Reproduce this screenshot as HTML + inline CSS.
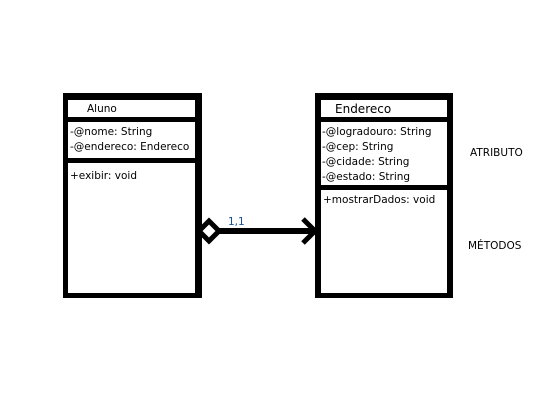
<!DOCTYPE html>
<html><head><style>body{margin:0;background:#fff}svg{display:block}text{font-family:"DejaVu Sans","Liberation Sans",sans-serif;font-size:10.5px;fill:#000}</style></head>
<body>
<svg width="559" height="402" viewBox="0 0 559 402">
<rect x="0" y="0" width="559" height="402" fill="#fff"/>
<!-- Aluno -->
<rect x="63" y="93" width="139" height="205" fill="#000"/>
<rect x="68" y="100" width="127" height="17" fill="#fff"/>
<rect x="68" y="122" width="127" height="36" fill="#fff"/>
<rect x="68" y="163" width="127" height="130" fill="#fff"/>
<text x="87" y="112">Aluno</text>
<text x="70" y="135">-@nome: String</text>
<text x="70" y="150">-@endereco: Endereco</text>
<text x="70" y="179">+exibir: void</text>
<!-- Endereco -->
<rect x="315" y="93" width="138" height="205" fill="#000"/>
<rect x="321" y="100" width="126" height="17" fill="#fff"/>
<rect x="321" y="122" width="126" height="63" fill="#fff"/>
<rect x="321" y="190" width="126" height="103" fill="#fff"/>
<text x="335" y="113" style="font-size:12px">Endereco</text>
<text x="322" y="135">-@logradouro: String</text>
<text x="322" y="150">-@cep: String</text>
<text x="322" y="165">-@cidade: String</text>
<text x="322" y="180">-@estado: String</text>
<text x="323" y="203">+mostrarDados: void</text>
<!-- connector -->
<line x1="218" y1="231" x2="314" y2="231" stroke="#000" stroke-width="6"/>
<polygon points="209,221 219,231 209,241 199,231" fill="#fff" stroke="#000" stroke-width="5"/>
<polyline points="303,219 315,231 303,243" fill="none" stroke="#000" stroke-width="5"/>
<text x="228" y="225" style="fill:#1a4f9e">1,1</text>
<text x="470" y="156">ATRIBUTO</text>
<text x="468" y="249">MÉTODOS</text>
</svg>
</body></html>
